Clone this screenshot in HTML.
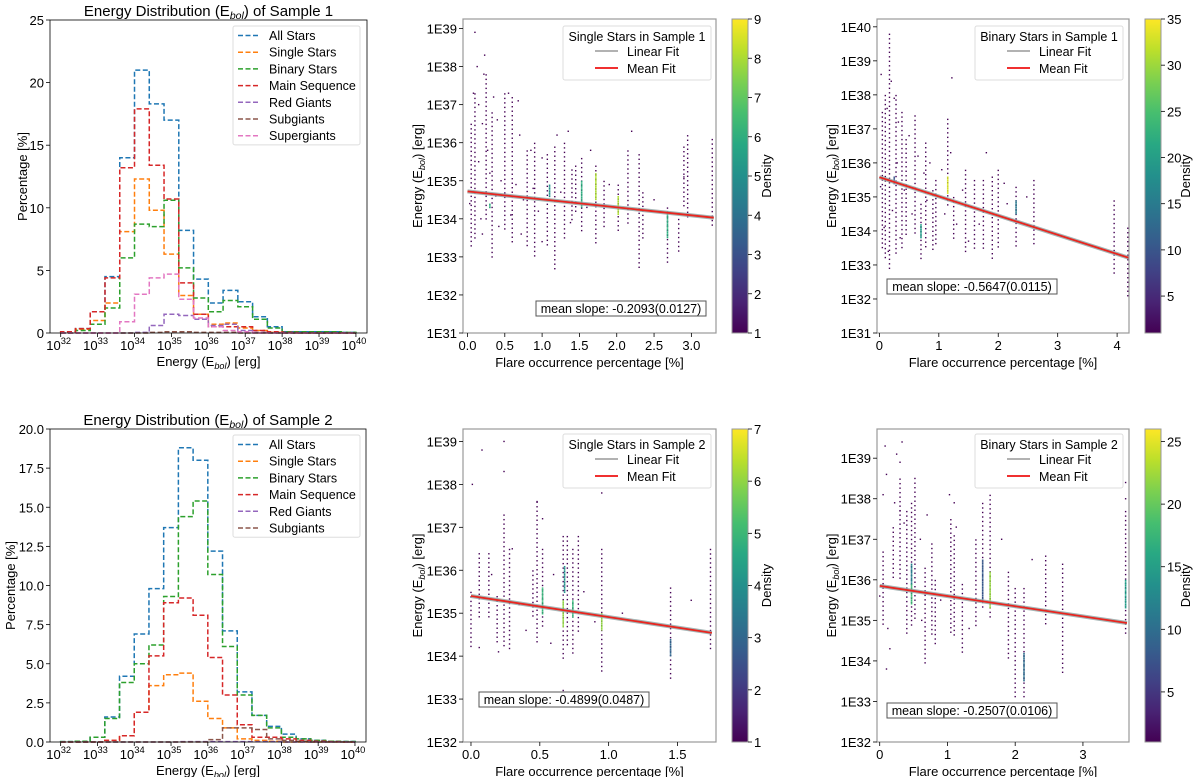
<!DOCTYPE html>
<html><head><meta charset="utf-8"><style>
body{margin:0;background:#fff}
svg{display:block;font-family:"Liberation Sans","DejaVu Sans",sans-serif}
</style></head><body>
<svg id="fig" width="1200" height="777" viewBox="0 0 1200 777" xmlns="http://www.w3.org/2000/svg"></svg>
<script>
// ---------- Data ----------
const binEdgeStart = 32, binWidth = 0.4, binCount = 20;
const histSeriesNames1 = ["All Stars","Single Stars","Binary Stars","Main Sequence","Red Giants","Subgiants","Supergiants"];
const histSeriesNames2 = ["All Stars","Single Stars","Binary Stars","Main Sequence","Red Giants","Subgiants"];
const s1All    = [0.1,0.35,1.7,4.5,14.0,21.0,18.3,17.0,8.2,4.3,2.4,3.4,2.5,1.3,0.5,0.1,0.1,0.1,0.1,0.05];
const s1Single = [0.1,0.3,1.0,2.4,8.1,12.3,9.8,6.3,3.0,1.5,0.7,0.8,0.4,0.2,0.05,0,0,0,0,0];
const s1Binary = [0,0.2,0.7,2.0,6.0,8.7,8.5,10.6,5.2,2.8,1.7,2.6,2.1,1.1,0.4,0.1,0.1,0.1,0.1,0.05];
const s1MS     = [0.1,0.35,1.7,4.4,13.2,17.9,13.4,10.7,4.0,1.5,0.5,0.5,0.5,0.2,0.1,0.05,0,0,0,0];
const s1RG     = [0,0,0,0,0,0.05,0.6,1.5,1.4,1.1,0.6,0.7,0.2,0.05,0,0,0,0,0,0];
const s1SubG   = [0,0,0,0,0,0,0.05,0.1,0.1,0.05,0.05,0.05,0,0,0,0,0,0,0,0];
const s1SuperG = [0,0,0,0,0.9,3.1,4.4,4.7,2.7,1.2,0.5,0.2,0.1,0,0,0,0,0,0,0];
const s2All    = [0.02,0.05,0.3,1.6,4.2,6.9,9.8,13.7,18.8,18.0,12.2,7.1,3.2,1.7,1.0,0.5,0.2,0.1,0.05,0.03];
const s2Single = [0,0,0,0.1,0.4,1.9,3.6,4.3,4.4,2.6,1.5,0.9,0.2,0.1,0.05,0,0,0,0,0];
const s2Binary = [0.02,0.05,0.3,1.5,3.8,5.0,6.2,9.3,14.4,15.4,10.7,6.1,3.0,1.7,0.9,0.3,0.2,0.1,0.05,0.03];
const s2MS     = [0,0,0,0.1,0.4,1.9,5.5,8.9,9.2,8.1,5.4,3.0,1.1,0.3,0.3,0.2,0.1,0.05,0.02,0];
const s2RG     = [0,0,0,0,0,0,0,0,0.02,0.02,0.02,0.02,0.02,0.02,0.02,0,0,0,0,0];
const s2SubG   = [0,0,0,0,0,0,0,0,0,0,0.15,0.9,0.9,0.8,0.2,0.1,0.05,0,0,0];
const hist1YTicks = [0,5,10,15,20,25];
const hist2YTicks = ["0.0","2.5","5.0","7.5","10.0","12.5","15.0","17.5","20.0"];
const histXTicks = [32,33,34,35,36,37,38,39,40];

// scatter panels: streaks [x, logLo, logHi], hot segments [x, lo, hi, density], dots [x, logE]
const p3Streaks = [[0.05,33.2,36.5],[0.1,33.5,37.3],[0.25,34,37.8],[0.33,33,36.8],[0.5,33.7,37.3],[0.6,33.4,37.2],[0.8,33.3,35.8],[0.9,33.0,36],[1.07,33.3,35.7],[1.17,32.7,35.9],[1.3,33.5,36],[1.4,33.9,35.3],[1.45,34.2,35.4],[1.53,33.7,35.6],[1.72,33.3,35.4],[1.83,33.7,35],[2.02,33.7,34.9],[2.15,33.8,35.8],[2.3,32.7,35.7],[2.35,33.5,34.7],[2.68,32.8,34.3],[2.83,33.1,34.0],[2.9,34.3,35.9],[2.95,34.0,36.2],[3.28,33.8,36.1]];
const p3Hot = [[1.72,34.5,35.2,8],[2.02,34.1,34.6,8],[1.53,34.3,35,6],[2.68,33.5,34.2,6],[0.3,34.3,34.4,6],[1.1,34.6,34.9,5]];
const p3Dots = [[0.1,38.9],[0.13,38.0],[0.23,38.3],[0.22,37.8],[0.08,37.3],[0.15,37.0],[0.35,37.2],[0.55,37.3],[0.68,37.1],[0.2,36.5],[0.4,36.6],[0.7,36.2],[0.85,35.8],[1.0,35.6],[1.2,36.2],[1.35,36.3],[0.15,35.5],[0.3,35.2],[0.45,35.0],[0.65,34.9],[0.75,34.5],[0.95,34.2],[1.25,34.7],[1.6,34.3],[1.9,34.9],[0.18,34.0],[0.42,33.8],[0.58,34.1],[0.72,33.6],[1.0,33.4],[0.2,33.6],[0.38,34.6],[0.88,34.8],[1.38,33.9],[2.5,34.5],[2.9,35.1],[1.65,35.8],[2.2,36.3],[0.03,34.4],[0.27,35.8]];
const p4Streaks = [[0.05,33.5,37.5],[0.1,33.2,38],[0.17,32.9,39.8],[0.28,33.3,38],[0.38,33.5,37.5],[0.45,33.8,36.7],[0.6,33.9,37.4],[0.7,33.1,34.8],[0.78,33.5,36.6],[0.9,33.4,35.2],[0.95,33.6,35.5],[1.15,34.7,37.3],[1.25,33.8,35],[1.45,33.3,35.8],[1.6,33.5,35.5],[1.75,33.5,35.5],[1.9,33.2,35.6],[2.0,33.5,35.8],[2.3,33.5,35.3],[2.6,33.6,35.5],[3.95,32.7,34.9],[4.18,32.1,34.1]];
const p4Hot = [[1.15,35.1,35.6,33],[0.7,33.8,34.2,20],[2.3,34.5,34.9,15],[0.25,35.4,35.6,10]];
const p4Dots = [[0.03,38.6],[0.2,38.4],[0.25,37.9],[0.13,37.6],[0.32,37.2],[0.5,36.8],[0.65,36.2],[0.85,36.0],[1.05,35.8],[1.2,36.3],[1.8,36.3],[1.4,35.2],[1.1,34.5],[1.3,34.2],[0.55,34.5],[0.35,33.8],[0.15,33.4],[0.08,34.1],[0.42,35.2],[0.8,34.9],[1.22,38.5],[2.15,34.8],[1.68,34.2],[1.5,33.7],[2.48,35.0],[2.1,35.4],[0.3,36.0],[0.02,35.3],[0.22,34.6],[0.75,35.7]];
const p5Streaks = [[0.0,34.2,35.5],[0.06,34.9,36.4],[0.13,34.9,36.4],[0.19,34.3,35.4],[0.24,34.2,37.3],[0.28,34.1,36.5],[0.45,34.9,36.0],[0.48,34.3,37.6],[0.52,34.7,36.5],[0.67,33.9,36.8],[0.7,34.2,36.8],[0.74,34.0,36.5],[0.78,34.5,36.8],[0.95,33.6,36.5],[1.45,33.4,35.6],[1.74,34.1,36.5]];
const p5Hot = [[0.67,34.7,35.3,6],[0.68,35.5,36.1,4],[0.52,35.0,35.6,5],[0.95,34.6,35.0,6],[0.74,34.9,35.3,5],[1.45,34,34.4,3]];
const p5Dots = [[0.08,38.8],[0.24,39.0],[0.24,38.3],[0.01,38.0],[0.48,37.6],[0.95,37.8],[0.52,37.2],[0.67,33.2],[0.3,36.5],[0.06,34.2],[0.2,34.1],[0.35,35.2],[0.6,35.9],[0.82,35.5],[0.9,34.8],[1.1,35.0],[1.6,35.3],[0.4,34.6],[0.15,35.9],[0.58,34.3]];
const p6Streaks = [[0.05,34.9,36.7],[0.2,36,37.3],[0.3,36,38.5],[0.4,34.6,37.7],[0.47,34.9,37.9],[0.52,35,38.4],[0.67,33.9,36.3],[0.77,34.6,36.9],[0.82,34.4,36],[1.05,34.7,37.5],[1.1,34.6,37.1],[1.22,34.2,35.9],[1.42,34.8,37.0],[1.52,35.3,37.9],[1.63,35,38.1],[1.9,34,36.2],[2.0,33.1,35.8],[2.13,33.1,35.8],[2.45,34.9,36.6],[2.7,33.7,36.4],[3.63,34.7,37.7]];
const p6Hot = [[1.63,35.3,36.2,22],[0.47,35.4,35.9,18],[0.47,35.9,36.4,12],[3.63,35.3,36,15],[2.13,33.5,34.2,10],[1.52,35.5,36.5,8]];
const p6Dots = [[0.08,39.3],[0.1,38.6],[0.33,39.4],[0.25,39.1],[0.3,38.9],[0.05,38.1],[0.22,37.9],[0.3,37.7],[0.36,37.4],[0.52,38.5],[1.03,38.1],[1.1,37.9],[1.13,37.3],[0.12,34.8],[0.1,33.8],[0.15,34.3],[0.0,35.6],[0.62,35.0],[0.9,35.5],[1.32,34.8],[1.8,37.0],[2.25,36.5],[3.63,38.4],[3.63,38.0],[0.6,37.0],[0.7,37.6]];

// ---------- helpers ----------
const NS = "http://www.w3.org/2000/svg";
const svg = document.getElementById("fig");
function mk(tag, attrs, parent, text){
  const e = document.createElementNS(NS, tag);
  for (const k in attrs) e.setAttribute(k, attrs[k]);
  if (text !== undefined) e.textContent = text;
  (parent || svg).appendChild(e);
  return e;
}
function viridis(t){
  const st=[[68,1,84],[72,40,120],[62,74,137],[49,104,142],[38,130,142],[31,158,137],[53,183,121],[109,205,89],[180,222,44],[253,231,37]];
  t=Math.max(0,Math.min(1,t))*(st.length-1);const i=Math.min(st.length-2,Math.floor(t)),f=t-i;
  const c=st[i].map((v,j)=>Math.round(v+(st[i+1][j]-v)*f));return `rgb(${c[0]},${c[1]},${c[2]})`;
}
function supText(parent, x, y, base, exp, anchor, size){
  const t = mk("text",{x:x,y:y,"text-anchor":anchor||"middle","font-size":size||13,fill:"#000"},parent);
  const a = document.createElementNS(NS,"tspan"); a.textContent = base; t.appendChild(a);
  const b = document.createElementNS(NS,"tspan"); b.setAttribute("dy","-6"); b.setAttribute("font-size", (size||13)*0.72); b.textContent = exp; t.appendChild(b);
  return t;
}
function ebolText(parent, x, y, pre, post, size, rotate){
  const attrs = {x:x,y:y,"text-anchor":"middle","font-size":size,fill:"#000"};
  if (rotate) attrs.transform = `rotate(-90 ${x} ${y})`;
  const t = mk("text",attrs,parent);
  const a=document.createElementNS(NS,"tspan");a.textContent=pre+"E";t.appendChild(a);
  const b=document.createElementNS(NS,"tspan");b.setAttribute("dy","3");b.setAttribute("font-size",size*0.7);b.setAttribute("font-style","italic");b.textContent="bol";t.appendChild(b);
  const c=document.createElementNS(NS,"tspan");c.setAttribute("dy","-3");c.textContent=post;t.appendChild(c);
  return t;
}

// ---------- histogram panels ----------
const histColors = ["#1f77b4","#ff7f0e","#2ca02c","#d62728","#9467bd","#8c564b","#e377c2"];
function histPanel(cfg){
  const g = mk("g",{});
  
  
  const L=cfg.L,R=cfg.R,T=cfg.T,B=cfg.B;
  const xs = v => L + (v - 31.71)/(40.3-31.71)*(R-L);
  const ys = v => B - v/cfg.ymax*(B-T);
  cfg.series.forEach((vals, si) => {
    let d = `M${xs(binEdgeStart)},${ys(0)}`;
    vals.forEach((v,i)=>{ d += ` V${ys(v)} H${xs(binEdgeStart+(i+1)*binWidth)}`; });
    d += ` V${ys(0)}`;
    const p = mk("path",{d:d,fill:"none",stroke:histColors[si],"stroke-width":1.5,"stroke-dasharray":"5,2.5"},g);
    
    
  });
  mk("rect",{x:L,y:T,width:R-L,height:B-T,fill:"none",stroke:"#000","stroke-width":0.8},g);
  histXTicks.forEach(e=>{
    const x=xs(e);
    mk("line",{x1:x,y1:B,x2:x,y2:B+4,stroke:"#000","stroke-width":0.8},g);
    const t=supText(g,x-2,B+17,"10",String(e),"middle",13);
    
    
  });
  cfg.yTicks.forEach(v=>{
    const y=ys(parseFloat(v));
    mk("line",{x1:L-4,y1:y,x2:L,y2:y,stroke:"#000","stroke-width":0.8},g);
    const t=mk("text",{x:L-6,y:y+5,"text-anchor":"end","font-size":13},g,String(v));
    
    
  });
  const title=ebolText(g,(L+R)/2,cfg.titleY,"Energy Distribution (",") of Sample "+cfg.sample,15);
  
  
  const xl=ebolText(g,(L+R)/2,B+33,"Energy (",") [erg]",13);
  
  
  const yl=mk("text",{x:cfg.ylabX,y:(T+B)/2,"text-anchor":"middle","font-size":13,transform:`rotate(-90 ${cfg.ylabX} ${(T+B)/2})`},g,"Percentage [%]");
  
  
  const lg=mk("g",{},g);
  
  
  const lx=233, lw=127, ly=cfg.legY, rowH=16.7;
  mk("rect",{x:lx,y:ly,width:lw,height:cfg.names.length*rowH+2,rx:2,fill:"#fff","fill-opacity":0.8,stroke:"#ddd"},lg);
  cfg.names.forEach((n,i)=>{
    const y=ly+9.5+i*rowH;
    const e=mk("g",{},lg);
    
    
    mk("line",{x1:lx+5,y1:y,x2:lx+27,y2:y,stroke:histColors[i],"stroke-width":1.5,"stroke-dasharray":"5,2.5"},e);
    mk("text",{x:lx+36,y:y+4.5,"font-size":12.5},e,n);
  });
}
histPanel({name:"histogram-sample-1",L:50,R:367,T:20,B:333,ymax:25,yTicks:hist1YTicks,series:[s1All,s1Single,s1Binary,s1MS,s1RG,s1SubG,s1SuperG],names:histSeriesNames1,sample:1,titleY:16,ylabX:27,legY:26});
histPanel({name:"histogram-sample-2",L:50,R:366,T:429,B:742,ymax:20,yTicks:hist2YTicks,series:[s2All,s2Single,s2Binary,s2MS,s2RG,s2SubG],names:histSeriesNames2,sample:2,titleY:425,ylabX:15,legY:435});

// ---------- scatter panels ----------
function scatterPanel(c){
  const g=mk("g",{});
  
  
  const xs=v=>c.L+(v-c.x0)/(c.x1-c.x0)*(c.R-c.L);
  const ys=v=>c.B-(v-c.y0)/(c.y1-c.y0)*(c.B-c.T);
  mk("rect",{x:c.L,y:c.T,width:c.R-c.L,height:c.B-c.T,fill:"#fff"},g);
  const pts=mk("g",{},g);
  
  
  c.streaks.forEach(s=>{
    const x=xs(s[0]);
    for(let y=ys(s[2]);y<=ys(s[1]);y+=4.5){
      mk("rect",{x:x-0.7,y:y,width:1.4,height:1.4,fill:viridis(0)},pts);
    }
  });
  c.dots.forEach(d=>{
    mk("rect",{x:xs(d[0])-0.7,y:ys(d[1])-0.7,width:1.4,height:1.4,fill:viridis(0)},pts);
  });
  c.hot.forEach(h=>{
    const col=viridis((h[3]-c.dmin)/(c.dmax-c.dmin));
    for(let y=ys(h[2]);y<=ys(h[1]);y+=1.6){
      mk("rect",{x:xs(h[0])-0.8,y:y,width:1.6,height:1.4,fill:col},pts);
    }
  });
  const fx0=c.x0<0?0:c.x0, fx1=c.fitEnd;
  const gf=mk("line",{x1:xs(fx0),y1:ys(c.fitA),x2:xs(fx1),y2:ys(c.fitA+c.slope*fx1),stroke:"#8fa3a3","stroke-width":4,"stroke-opacity":0.8},g);
  
  
  const rf=mk("line",{x1:xs(fx0),y1:ys(c.fitA),x2:xs(fx1),y2:ys(c.fitA+c.slope*fx1),stroke:"#e8251f","stroke-width":1.8},g);
  
  
  mk("rect",{x:c.L,y:c.T,width:c.R-c.L,height:c.B-c.T,fill:"none",stroke:"#999","stroke-width":1.2},g);
  c.xTicks.forEach(v=>{
    const x=xs(parseFloat(v));
    mk("line",{x1:x,y1:c.B,x2:x,y2:c.B+4,stroke:"#000","stroke-width":0.8},g);
    const t=mk("text",{x:x,y:c.B+17,"text-anchor":"middle","font-size":13},g,v);
    
    
  });
  for(let e=Math.ceil(c.y0);e<=Math.floor(c.y1);e++){
    const y=ys(e);
    mk("line",{x1:c.L-4,y1:y,x2:c.L,y2:y,stroke:"#000","stroke-width":0.8},g);
    const t=mk("text",{x:c.L-6,y:y+5,"text-anchor":"end","font-size":13},g,"1E"+e);
    
    
  }
  const xl=mk("text",{x:(c.L+c.R)/2,y:c.B+34,"text-anchor":"middle","font-size":13},g,"Flare occurrence percentage [%]");
  
  
  const yl=ebolText(g,c.ylabX,(c.T+c.B)/2,"Energy (",") [erg]",13,true);
  
  
  const lg=mk("g",{},g);
  
  
  mk("rect",{x:c.legX,y:c.legY,width:148,height:54,rx:2,fill:"#fff","fill-opacity":0.85,stroke:"#ddd"},lg);
  mk("text",{x:c.legX+74,y:c.legY+15,"text-anchor":"middle","font-size":12.5},lg,c.title);
  mk("line",{x1:c.legX+32,y1:c.legY+25,x2:c.legX+55,y2:c.legY+25,stroke:"#999","stroke-width":1.5},lg);
  mk("text",{x:c.legX+64,y:c.legY+30,"font-size":12.5},lg,"Linear Fit");
  mk("line",{x1:c.legX+32,y1:c.legY+42,x2:c.legX+55,y2:c.legY+42,stroke:"#f03030","stroke-width":2},lg);
  mk("text",{x:c.legX+64,y:c.legY+47,"font-size":12.5},lg,"Mean Fit");
  const sb=mk("g",{},g);
  
  
  mk("rect",{x:c.sbX,y:c.sbY,width:170,height:15,fill:"#fff",stroke:"#555","stroke-width":1},sb);
  mk("text",{x:c.sbX+85,y:c.sbY+12,"text-anchor":"middle","font-size":12.5},sb,c.slopeText);
  const cb=mk("g",{},g);
  
  
  const id="grad"+c.name;
  const defs=mk("defs",{},cb);
  const lgd=mk("linearGradient",{id:id,x1:0,y1:1,x2:0,y2:0},defs);
  for(let i=0;i<=10;i++) mk("stop",{offset:i/10,"stop-color":viridis(i/10)},lgd);
  mk("rect",{x:c.cbX,y:c.T,width:16,height:c.B-c.T,fill:`url(#${id})`,stroke:"#999","stroke-width":1},cb);
  c.cbTicks.forEach(v=>{
    const y=c.B-(v-c.dmin)/(c.dmax-c.dmin)*(c.B-c.T);
    mk("line",{x1:c.cbX+16,y1:y,x2:c.cbX+20,y2:y,stroke:"#000","stroke-width":0.8},cb);
    mk("text",{x:c.cbX+22,y:y+5,"font-size":13},cb,String(v));
  });
  const dx=c.cbX+c.cbLabOff;
  mk("text",{x:dx,y:(c.T+c.B)/2,"text-anchor":"middle","font-size":13,transform:`rotate(-90 ${dx} ${(c.T+c.B)/2})`},cb,"Density");
}
scatterPanel({name:"scatter-single-sample-1",L:463,R:716,T:19,B:333,x0:-0.06,x1:3.33,y0:31,y1:39.25,
  xTicks:["0.0","0.5","1.0","1.5","2.0","2.5","3.0"],streaks:p3Streaks,hot:p3Hot,dots:p3Dots,dmin:1,dmax:9,
  fitA:34.72,slope:-0.2093,fitEnd:3.3,ylabX:422,legX:563,legY:26,title:"Single Stars in Sample 1",
  sbX:536,sbY:301,slopeText:"mean slope: -0.2093(0.0127)",cbX:732,cbTicks:[1,2,3,4,5,6,7,8,9],cbLabOff:39});
scatterPanel({name:"scatter-binary-sample-1",L:877,R:1129,T:19,B:333,x0:-0.04,x1:4.2,y0:31,y1:40.23,
  xTicks:["0","1","2","3","4"],streaks:p4Streaks,hot:p4Hot,dots:p4Dots,dmin:1,dmax:35,
  fitA:35.58,slope:-0.5647,fitEnd:4.2,ylabX:836,legX:975,legY:26,title:"Binary Stars in Sample 1",
  sbX:887,sbY:279,slopeText:"mean slope: -0.5647(0.0115)",cbX:1145,cbTicks:[5,10,15,20,25,30,35],cbLabOff:45});
scatterPanel({name:"scatter-single-sample-2",L:463,R:716,T:429,B:742,x0:-0.058,x1:1.78,y0:32,y1:39.29,
  xTicks:["0.0","0.5","1.0","1.5"],streaks:p5Streaks,hot:p5Hot,dots:p5Dots,dmin:1,dmax:7,
  fitA:35.4,slope:-0.4899,fitEnd:1.75,ylabX:422,legX:563,legY:434,title:"Single Stars in Sample 2",
  sbX:479,sbY:692,slopeText:"mean slope: -0.4899(0.0487)",cbX:732,cbTicks:[1,2,3,4,5,6,7],cbLabOff:39});
scatterPanel({name:"scatter-binary-sample-2",L:877,R:1129,T:429,B:742,x0:-0.04,x1:3.68,y0:32,y1:39.72,
  xTicks:["0","1","2","3"],streaks:p6Streaks,hot:p6Hot,dots:p6Dots,dmin:1,dmax:26,
  fitA:35.85,slope:-0.2507,fitEnd:3.65,ylabX:836,legX:975,legY:434,title:"Binary Stars in Sample 2",
  sbX:887,sbY:703,slopeText:"mean slope: -0.2507(0.0106)",cbX:1145,cbTicks:[5,10,15,20,25],cbLabOff:45});
</script>
</body></html>
